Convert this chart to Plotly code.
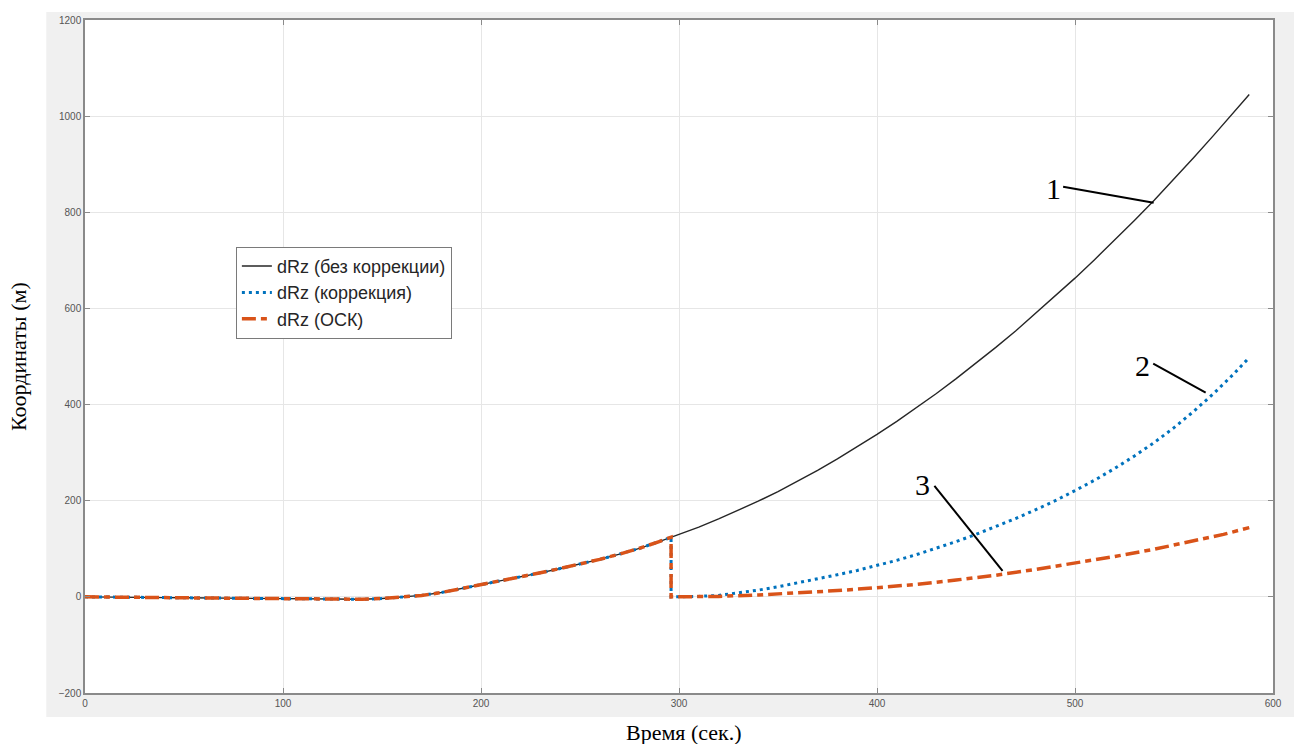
import plotly.graph_objects as go

# ---- data ----
t_pre = [0, 10, 20, 30, 40, 50, 60, 70, 80, 90, 100, 110, 120, 130, 140, 150, 160, 170, 180,
         190, 200, 210, 220, 230, 240, 250, 260, 270, 280, 290, 296]
v_pre = [0, 0, -0.5, -1, -1.5, -2, -2.5, -3, -3.5, -4, -4.5, -5, -5.5, -5.5, -5, -3.5, -1, 3, 9,
         17, 26, 34, 42, 50, 59, 68, 78, 89, 101, 115, 124]

t_nocorr = [300, 310, 320, 330, 340, 350, 360, 370, 380, 390, 400, 410, 420, 430, 440, 450, 460,
            470, 480, 490, 500, 510, 520, 530, 540, 550, 560, 570, 580, 588]
v_nocorr = [130, 145, 162, 180, 199, 219, 241, 263, 287, 312, 338, 365, 394, 423, 454, 486, 519,
            553, 589, 625, 663, 702, 742, 783, 825, 869, 914, 960, 1006, 1045]

t_corr = [296, 300, 310, 320, 330, 340, 350, 360, 370, 380, 390, 400, 410, 420, 430, 440, 450, 460,
          470, 480, 490, 500, 510, 520, 530, 540, 550, 560, 570, 580, 588]
v_corr = [0, 0, 1, 3, 8, 14, 21, 29, 37, 46, 55, 65, 76, 88, 101, 115, 130, 146,
          163, 181, 200, 221, 243, 267, 293, 321, 352, 386, 423, 463, 498]

t_osk = [296, 300, 320, 340, 360, 380, 400, 420, 440, 460, 480, 500, 520, 540, 560, 575, 588]
v_osk = [0, 0, 1, 4, 8, 13, 19, 26, 35, 45, 57, 70, 84, 99, 116, 130, 144]

names = ["dRz (без коррекции)", "dRz (коррекция)", "dRz (ОСК)"]
x_ticks = [0, 100, 200, 300, 400, 500, 600]
y_ticks = [-200, 0, 200, 400, 600, 800, 1000, 1200]

# callout labels: text, text position, leader line start/end (data units)
callout_text = ["1", "2", "3"]
callout_tx = [489, 534, 423]
callout_ty = [850, 482, 234]
callout_x0 = [494, 539.5, 429]
callout_y0 = [853, 485, 231]
callout_x1 = [539.7, 566, 463.4]
callout_y1 = [820, 425, 54]

fig = go.Figure()

fig.add_trace(go.Scatter(
    x=t_pre + t_nocorr, y=v_pre + v_nocorr, mode="lines", name=names[0],
    line=dict(color="#262626", width=1.4)))
fig.add_trace(go.Scatter(
    x=t_pre + t_corr, y=v_pre + v_corr, mode="lines", name=names[1],
    line=dict(color="#0072BD", width=3, dash="3px,4px")))
fig.add_trace(go.Scatter(
    x=t_pre + t_osk, y=v_pre + v_osk, mode="lines", name=names[2],
    line=dict(color="#D95319", width=3.5, dash="14px,5px,6px,5px")))

shapes = [
    dict(type="rect", xref="paper", yref="paper", x0=-0.0326, x1=1.02, y0=-0.0357, y1=1.012,
         fillcolor="#f0f0f0", line=dict(width=0), layer="below"),
    dict(type="rect", xref="paper", yref="paper", x0=0, x1=1, y0=0, y1=1,
         fillcolor="white", line=dict(width=0), layer="below"),
]
annotations = []
for i in range(len(callout_text)):
    shapes.append(dict(type="line", xref="x", yref="y", x0=callout_x0[i], y0=callout_y0[i],
                       x1=callout_x1[i], y1=callout_y1[i], line=dict(color="black", width=2)))
    annotations.append(dict(x=callout_tx[i], y=callout_ty[i], xref="x", yref="y", text=callout_text[i],
                            showarrow=False, xanchor="center", yanchor="middle",
                            font=dict(family="Liberation Serif", size=30, color="black")))

annotations.append(dict(x=0.504, y=-0.058, xref="paper", yref="paper", text="Время (сек.)",
                        showarrow=False, xanchor="center", yanchor="middle",
                        font=dict(family="Liberation Serif", size=22, color="black")))
annotations.append(dict(x=-0.056, y=0.5, xref="paper", yref="paper", text="Координаты (м)",
                        showarrow=False, xanchor="center", yanchor="middle", textangle=-90,
                        font=dict(family="Liberation Serif", size=22, color="black")))

axis_common = dict(showgrid=True, gridcolor="#e6e6e6", gridwidth=1, zeroline=False,
                   showline=True, linecolor="#8a8a8a", linewidth=1.5, mirror="ticks",
                   ticks="inside", ticklen=5, tickcolor="#8a8a8a",
                   tickfont=dict(family="Liberation Sans", size=10, color="#555555"))

fig.update_layout(
    width=1294, height=744,
    margin=dict(l=85, r=14, t=20, b=51),
    paper_bgcolor="white", plot_bgcolor="white",
    xaxis=dict(range=[0, 600], tickvals=x_ticks, **axis_common),
    yaxis=dict(range=[-200, 1200], tickvals=y_ticks, **axis_common),
    legend=dict(x=0.127, y=0.663, xanchor="left", yanchor="top",
                bgcolor="white", bordercolor="#7a7a7a", borderwidth=1,
                font=dict(family="Liberation Sans", size=18, color="#262626"),
                itemwidth=30, tracegroupgap=0),
    shapes=shapes, annotations=annotations,
    showlegend=True,
)

fig.write_html("out.html")
